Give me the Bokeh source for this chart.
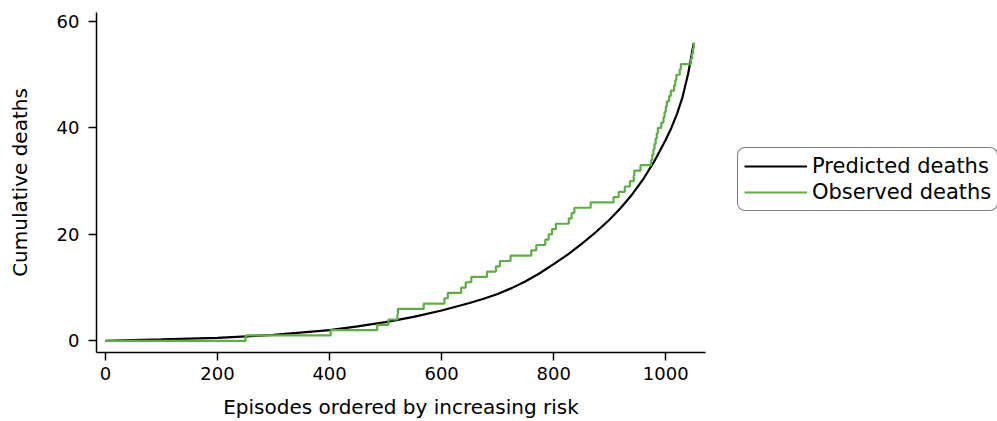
from bokeh.plotting import figure
from bokeh.models import Range1d, Legend, LegendItem, FixedTicker
from bokeh.layouts import row
from bokeh.embed import file_html
from bokeh.resources import INLINE

# Predicted cumulative deaths (episode index, expected cumulative deaths)
pred_x = [0, 100, 200, 300, 400, 450, 500, 550, 600, 625, 650, 675, 700, 725,
          750, 775, 800, 825, 850, 875, 900, 920, 940, 960, 980, 1000, 1010,
          1020, 1030, 1040, 1045, 1050]
pred_y = [0, 0.25, 0.55, 1.1, 2.0, 2.7, 3.5, 4.5, 5.7, 6.4, 7.1, 7.9, 8.8, 9.9,
          11.2, 12.7, 14.4, 16.2, 18.2, 20.4, 22.8, 25.0, 27.5, 30.4, 33.8, 37.8,
          40.0, 42.6, 45.8, 50.2, 53.0, 56.0]

# Episodes at which an observed death occurs (cumulative count = position)
death_episodes = [250, 402, 485, 505, 521, 522, 568, 605, 611, 635, 643, 653,
                  681, 697, 704, 723, 760, 769, 785, 791, 797, 804, 827, 832,
                  837, 866, 907, 916, 927, 936, 943, 944, 955, 974, 976, 978,
                  980, 982, 984, 986, 992, 996, 998, 1000, 1002, 1006, 1009,
                  1015, 1017, 1019, 1025, 1027, 1045, 1047, 1049, 1050]
obs_x = [0] + death_episodes
obs_y = list(range(0, len(death_episodes) + 1))

x_ticks = [0, 200, 400, 600, 800, 1000]
y_ticks = [0, 20, 40, 60]
series_labels = ["Predicted deaths", "Observed deaths"]

FONT = "DejaVu Sans"
PRED_COLOR = "black"
OBS_COLOR = "#5cb043"

p = figure(width=736, height=421, output_backend="svg", toolbar_location=None,
           x_range=Range1d(-16, 1071), y_range=Range1d(-2.2, 61.7),
           min_border_left=96, min_border_right=31, min_border_top=12,
           min_border_bottom=68)
p.outline_line_color = None
p.xgrid.visible = False
p.ygrid.visible = False

p.line(pred_x, pred_y, line_color=PRED_COLOR, line_width=2.2)
p.step(obs_x, obs_y, mode="after", line_color=OBS_COLOR, line_width=2.2)

for ax in (p.xaxis[0], p.yaxis[0]):
    ax.axis_line_color = "black"
    ax.axis_line_width = 1.5
    ax.major_tick_line_color = "black"
    ax.major_tick_line_width = 1.5
    ax.major_tick_out = 8
    ax.major_tick_in = 0
    ax.minor_tick_line_color = None
    ax.major_label_text_font = FONT
    ax.major_label_text_font_size = "18px"
    ax.major_label_text_color = "black"
    ax.axis_label_text_font = FONT
    ax.axis_label_text_font_size = "20px"
    ax.axis_label_text_font_style = "normal"
    ax.axis_label_text_color = "black"

p.xaxis[0].ticker = FixedTicker(ticks=x_ticks)
p.yaxis[0].ticker = FixedTicker(ticks=y_ticks)
p.xaxis[0].axis_label = "Episodes ordered by increasing risk"
p.yaxis[0].axis_label = "Cumulative deaths"
p.xaxis[0].major_label_standoff = 6
p.yaxis[0].major_label_standoff = 9
p.xaxis[0].axis_label_standoff = 12
p.yaxis[0].axis_label_standoff = 22

# Legend panel to the right of the chart (series drawn out of view there,
# only their legend entries are visible)
q = figure(width=261, height=421, output_backend="svg", toolbar_location=None,
           x_axis_type=None, y_axis_type=None,
           x_range=Range1d(5000, 6000), y_range=Range1d(500, 600),
           min_border_left=0, min_border_right=0, min_border_top=12,
           min_border_bottom=68)
q.outline_line_color = None
q.xgrid.visible = False
q.ygrid.visible = False
lp = q.line(pred_x, pred_y, line_color=PRED_COLOR, line_width=2)
lo = q.step(obs_x, obs_y, mode="after", line_color=OBS_COLOR, line_width=2)

legend = Legend(items=[LegendItem(label=series_labels[0], renderers=[lp]),
                       LegendItem(label=series_labels[1], renderers=[lo])],
                location=(1, 141))
legend.margin = 0
legend.padding = 6
legend.spacing = 2
legend.glyph_width = 63
legend.glyph_height = 24
legend.label_height = 24
legend.label_standoff = 5
legend.label_text_font = FONT
legend.label_text_font_size = "21px"
legend.label_text_color = "black"
legend.border_line_color = "black"
legend.border_line_width = 1.5
legend.background_fill_alpha = 1
try:
    legend.border_radius = 8
except Exception:
    pass
q.add_layout(legend, "center")

layout = row(p, q, spacing=0)
open("out.html", "w").write(file_html(layout, INLINE))
